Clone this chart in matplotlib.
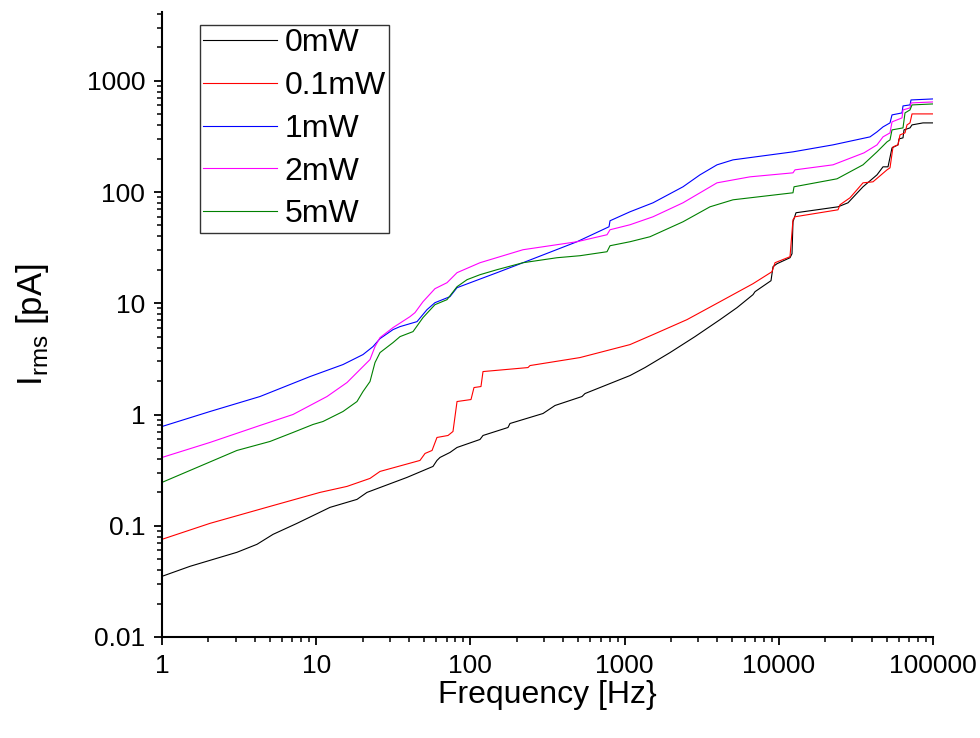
import numpy as np
import matplotlib.pyplot as plt
from matplotlib.ticker import LogLocator, FuncFormatter, NullFormatter

# frequency [Hz] / current [pA] for each laser power
f_0 = [1, 1.52, 3.06, 4.13, 5.25, 7.51, 12.29, 18.39, 21.35, 38.8, 57.2, 60.7, 63.5,
       73.7, 81.9, 115.4, 120.7, 175.3, 180.6, 295.7, 353.7, 529.3, 553.6, 1084, 1356,
       1970, 2861, 4157, 5357, 6803, 7012, 8900, 9172, 9735, 11820, 12180, 12360, 12930,
       24210, 28110, 35160, 43340, 47400, 51080, 54220, 59300, 60200, 63900, 64860,
       70930, 73090, 86130, 100000]
i_0 = [0.0351, 0.0432, 0.0577, 0.0681, 0.0837, 0.1051, 0.1463, 0.1726, 0.1994, 0.272,
       0.3414, 0.3865, 0.4111, 0.4558, 0.5055, 0.5965, 0.6478, 0.7643, 0.8302, 1.021,
       1.205, 1.451, 1.543, 2.239, 2.642, 3.602, 5.013, 7.125, 9.13, 11.95, 12.71, 15.95,
       21.31, 22.67, 25.66, 27.87, 54.0, 65.1, 73.6, 80.0, 111.4, 142.7, 168.4, 168.4,
       249.4, 265.3, 300.3, 306.6, 361.6, 377.0, 401.1, 418.0, 418.0]

f_01 = [1, 2.048, 5.02, 10.58, 15.84, 22.33, 25.93, 47.1, 50.8, 56.4, 60.7, 71.6, 77.1,
        81.9, 100.9, 105.5, 117.1, 120.7, 236.3, 243.5, 513.6, 1084, 1529, 2539, 4157,
        6803, 9034, 9450, 11820, 12360, 12740, 24210, 24940, 28950, 35160, 40820, 50320,
        52620, 55040, 59300, 61090, 65830, 67830, 70930, 73090, 100000]
i_01 = [0.0755, 0.1051, 0.1493, 0.1994, 0.2258, 0.2664, 0.3078, 0.3865, 0.4466, 0.4751,
        0.6217, 0.6478, 0.7038, 1.308, 1.363, 1.747, 1.784, 2.432, 2.642, 2.754, 3.249,
        4.25, 5.226, 7.125, 10.33, 14.99, 19.21, 23.14, 26.2, 56.3, 59.9, 69.2, 76.8,
        88.7, 120.9, 123.5, 158.2, 164.9, 254.5, 265.3, 326.1, 340.0, 401.1, 418.0,
        503.5, 503.5]

f_1 = [1, 2.048, 4.32, 9.12, 14.92, 20.11, 23.35, 25.93, 31.49, 34.96, 45.06, 52.3, 58.9,
       73.7, 81.9, 104.0, 148.8, 219.3, 491.2, 792.4, 804.4, 1084, 1529, 2392, 3083,
       3974, 5047, 12360, 22460, 39040, 43340, 47400, 52620, 54220, 62950, 63900,
       70930, 72000, 100000]
i_1 = [0.78, 1.064, 1.451, 2.193, 2.811, 3.457, 4.077, 4.811, 5.794, 6.166, 6.836, 8.761,
       10.12, 11.46, 13.8, 15.63, 18.83, 23.14, 35.73, 48.71, 55.14, 66.4, 80.0, 111.4,
       142.7, 175.5, 194.5, 229.6, 265.3, 313.0, 347.1, 384.8, 418.0, 493.2, 514.0,
       594.0, 606.5, 672.3, 686.4]

f_2 = [1, 2.048, 4.32, 7.07, 11.75, 15.84, 20.11, 22.33, 24.06, 25.93, 31.49, 40.58,
       43.72, 49.27, 58.9, 70.5, 81.9, 115.4, 219.3, 491.2, 769, 804.4, 1084, 1529,
       2392, 3974, 6505, 12360, 12740, 22460, 35690, 43340, 47400, 52620, 54220,
       62950, 63900, 70930, 72000, 100000]
i_2 = [0.411, 0.561, 0.797, 1.0, 1.451, 1.938, 2.697, 3.117, 4.077, 4.912, 6.039, 7.58,
       8.235, 10.33, 13.52, 15.3, 18.83, 23.14, 30.28, 35.73, 41.29, 45.78, 50.77, 59.9,
       80.0, 120.9, 136.9, 148.7, 158.2, 175.5, 224.9, 265.3, 313.0, 340.0, 426.8,
       463.6, 547.0, 570.0, 632.0, 645.1]

f_5 = [1, 3.06, 5.02, 7.07, 9.53, 11.07, 14.92, 18.39, 20.11, 22.33, 24.06, 25.93, 31.49,
       34.96, 42.45, 49.27, 58.9, 70.5, 81.9, 95.1, 115.4, 148.8, 219.3, 364.5, 513.6,
       769, 804.4, 1084, 1461, 2392, 3579, 5047, 12360, 12550, 23850, 35160, 43340,
       50320, 52620, 54220, 63900, 65830, 70930, 73090, 100000]
i_5 = [0.2453, 0.4751, 0.5725, 0.6893, 0.8133, 0.8654, 1.064, 1.308, 1.608, 1.978, 2.93,
       3.602, 4.43, 5.013, 5.561, 7.43, 9.71, 10.77, 14.09, 16.29, 18.06, 20.03, 23.14,
       25.66, 26.75, 29.05, 32.89, 35.73, 39.62, 54.0, 73.6, 85.1, 98.4, 111.4, 131.4,
       175.5, 229.6, 282.2, 294.1, 361.6, 377.0, 514.0, 547.0, 606.5, 619.0]

labels = ['0mW', '0.1mW', '1mW', '2mW', '5mW']
colors = ['black', '#ff0000', '#0000ff', '#ff00ff', '#008000']

plt.rcParams['font.family'] = ['Liberation Sans', 'DejaVu Sans']

fig = plt.figure(figsize=(9.8, 7.38), dpi=100)
ax = fig.add_axes([162 / 980, 1 - 637 / 738, 771 / 980, 625 / 738])

for f, i, lab, c in zip([f_0, f_01, f_1, f_2, f_5], [i_0, i_01, i_1, i_2, i_5], labels, colors):
    ax.plot(f, i, color=c, lw=0.8, label=lab)

ax.set_xscale('log')
ax.set_yscale('log')
ax.set_xlim(1, 100000)
ax.set_ylim(0.01, 4150)

fmt = FuncFormatter(lambda v, p: '%g' % v)
ax.xaxis.set_major_locator(LogLocator(base=10, numticks=10))
ax.yaxis.set_major_locator(LogLocator(base=10, numticks=10))
ax.xaxis.set_minor_locator(LogLocator(base=10, subs=np.arange(2, 10), numticks=20))
ax.yaxis.set_minor_locator(LogLocator(base=10, subs=np.arange(2, 10), numticks=20))
ax.xaxis.set_major_formatter(fmt)
ax.yaxis.set_major_formatter(fmt)
ax.xaxis.set_minor_formatter(NullFormatter())
ax.yaxis.set_minor_formatter(NullFormatter())

ax.spines['top'].set_visible(False)
ax.spines['right'].set_visible(False)
ax.spines['left'].set_linewidth(1.5)
ax.spines['bottom'].set_linewidth(1.5)
ax.tick_params(which='major', direction='out', length=6, width=1.3, pad=6, labelsize=19)
ax.tick_params(which='minor', direction='out', length=3.5, width=1.1)

ax.set_xlabel('Frequency [Hz}', fontsize=23, labelpad=2)
ax.set_ylabel('I$_{\\mathregular{rms}}$ [pA]', fontsize=25, labelpad=26)

leg = ax.legend(loc='upper left', bbox_to_anchor=(38 / 771, 1 - 13 / 625), borderaxespad=0,
                fontsize=23, frameon=True, fancybox=False, edgecolor='black',
                borderpad=0.1, handlelength=2.3, handletextpad=0.25, labelspacing=0.4)
leg.get_frame().set_linewidth(1.0)

fig.savefig('out.png', dpi=100)
